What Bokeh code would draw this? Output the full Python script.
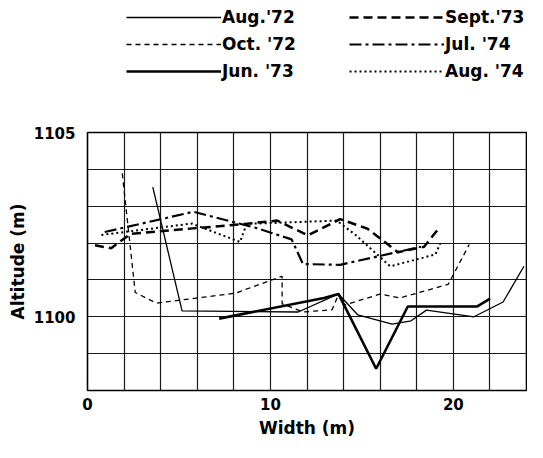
from bokeh.plotting import figure
from bokeh.layouts import column
from bokeh.models import Range1d, FixedTicker, Legend, LegendItem, Plot
from bokeh.embed import file_html
from bokeh.resources import INLINE

# ---- data ----
x_ticks = [0, 10, 20]
y_ticks = [1100, 1105]
x_grid = [0, 2, 4, 6, 8, 10, 12, 14, 16, 18, 20, 22, 24]
y_grid = [1098, 1099, 1100, 1101, 1102, 1103, 1104, 1105]

aug72_x = [3.57, 5.17, 11.52, 13.72, 14.78, 16.65, 17.69, 18.53, 21.13, 22.72, 23.86]
aug72_y = [1103.52, 1100.16, 1100.13, 1100.62, 1100.05, 1099.80, 1099.89, 1100.18, 1100.00, 1100.40, 1101.37]

oct72_x = [1.90, 2.61, 3.76, 8.08, 10.64, 10.64, 11.78, 13.37, 13.72, 14.00, 16.02, 17.07, 19.72, 20.87]
oct72_y = [1103.89, 1100.66, 1100.37, 1100.64, 1101.10, 1100.35, 1100.13, 1100.19, 1100.60, 1100.31, 1100.62, 1100.51, 1100.88, 1101.96]

jun73_x = [7.20, 12.93, 13.72, 15.78, 17.51, 21.31, 22.01]
jun73_y = [1099.95, 1100.51, 1100.62, 1098.59, 1100.28, 1100.28, 1100.49]

sep73_x = [0.41, 1.29, 2.35, 8.61, 10.37, 12.05, 13.81, 15.31, 16.97, 18.40, 19.19]
sep73_y = [1101.94, 1101.86, 1102.25, 1102.52, 1102.61, 1102.21, 1102.65, 1102.39, 1101.75, 1101.90, 1102.39]

jul74_x = [0.94, 5.79, 9.23, 11.16, 11.78, 13.81, 17.07, 18.24]
jul74_y = [1102.30, 1102.85, 1102.41, 1102.10, 1101.43, 1101.41, 1101.77, 1101.90]

aug74_x = [0.76, 5.70, 8.34, 8.70, 13.63, 14.68, 16.55, 19.02, 19.28]
aug74_y = [1102.22, 1102.53, 1102.03, 1102.52, 1102.61, 1102.21, 1101.37, 1101.69, 1101.99]

labels_col1 = ["Aug.'72", "Oct. '72", "Jun. '73"]
labels_col2 = ["Sept.'73", "Jul. '74", "Aug. '74"]

FONT = "DejaVu Sans"

styles = [
    dict(line_color="black", line_width=1.3),
    dict(line_color="black", line_width=1.3, line_dash="5 4"),
    dict(line_color="black", line_width=2.6),
    dict(line_color="black", line_width=2.5, line_dash="9 5"),
    dict(line_color="black", line_width=2.2, line_dash="12 4 3 4"),
    dict(line_color="black", line_width=2.0, line_dash="2 3"),
]
series = [(aug72_x, aug72_y), (oct72_x, oct72_y), (jun73_x, jun73_y),
          (sep73_x, sep73_y), (jul74_x, jul74_y), (aug74_x, aug74_y)]

HAS_FRAME_ALIGN = "frame_align" in Plot.properties()
W = 527
LEFT = 87

# ---------------- main chart ----------------
p = figure(width=W, height=358, output_backend="svg", toolbar_location=None,
           x_range=Range1d(0, 24), y_range=Range1d(1098, 1105),
           min_border_left=LEFT, min_border_right=1, min_border_top=48, min_border_bottom=52,
           background_fill_color="white", border_fill_color="white")
p.title.visible = False
p.outline_line_color = "black"
p.outline_line_width = 1.6
p.outline_line_alpha = 1.0

p.xgrid.ticker = FixedTicker(ticks=x_grid)
p.ygrid.ticker = FixedTicker(ticks=y_grid)
for g in (p.xgrid, p.ygrid):
    g.grid_line_color = "black"
    g.grid_line_width = 1.2
    g.grid_line_alpha = 0.9

p.xaxis.ticker = FixedTicker(ticks=x_ticks)
p.yaxis.ticker = FixedTicker(ticks=y_ticks)
for ax in (p.xaxis, p.yaxis):
    ax.axis_line_color = None
    ax.major_tick_line_color = None
    ax.minor_tick_line_color = None
    ax.major_tick_out = 0
    ax.major_tick_in = 0
    ax.minor_tick_out = 0
    ax.major_label_text_font = FONT
    ax.major_label_text_font_style = "bold"
    ax.major_label_text_font_size = "15px"
    ax.major_label_text_color = "black"
    ax.axis_label_text_font = FONT
    ax.axis_label_text_font_style = "bold"
    ax.axis_label_text_font_size = "17px"
    ax.axis_label_text_color = "black"
p.xaxis.axis_label = "Width (m)"
p.yaxis.axis_label = "Altitude (m)"
p.xaxis.major_label_standoff = 7
p.yaxis.major_label_standoff = 12
p.xaxis.axis_label_standoff = 5
p.yaxis.axis_label_standoff = 3

for (xs, ys), st in zip(series, styles):
    p.line(xs, ys, **st)

# ---------------- legend strip (above the chart) ----------------
# same series, but this strip's ranges show none of the data: only the key is visible
lg = figure(width=W, height=84, output_backend="svg", toolbar_location=None,
            x_range=Range1d(0, 1), y_range=Range1d(0, 1),
            x_axis_type=None, y_axis_type=None,
            min_border_left=LEFT, min_border_right=1, min_border_top=0, min_border_bottom=0,
            background_fill_color="white", border_fill_color="white")
lg.title.visible = False
lg.outline_line_color = None
lg.grid.visible = False
key_renderers = [lg.line(xs, ys, **st) for (xs, ys), st in zip(series, styles)]

if HAS_FRAME_ALIGN:
    p.frame_align = False
    lg.frame_align = False


def make_legend(labels, renderers, loc):
    leg = Legend(items=[LegendItem(label=l, renderers=[r]) for l, r in zip(labels, renderers)],
                 location=loc)
    leg.border_line_color = None
    leg.background_fill_alpha = 0
    leg.inactive_fill_alpha = 0
    leg.padding = 0
    leg.margin = 0
    leg.spacing = 7
    leg.label_height = 18
    leg.glyph_height = 18
    leg.glyph_width = 95
    leg.label_standoff = 1
    leg.label_text_font = FONT
    leg.label_text_font_style = "bold"
    leg.label_text_font_size = "17px"
    leg.label_text_color = "black"
    return leg


lg.add_layout(make_legend(labels_col1, key_renderers[:3], (39, 3)))
lg.add_layout(make_legend(labels_col2, key_renderers[3:], (262, 3)))

layout = column(lg, p, spacing=0)
open("out.html", "w").write(file_html(layout, INLINE))
